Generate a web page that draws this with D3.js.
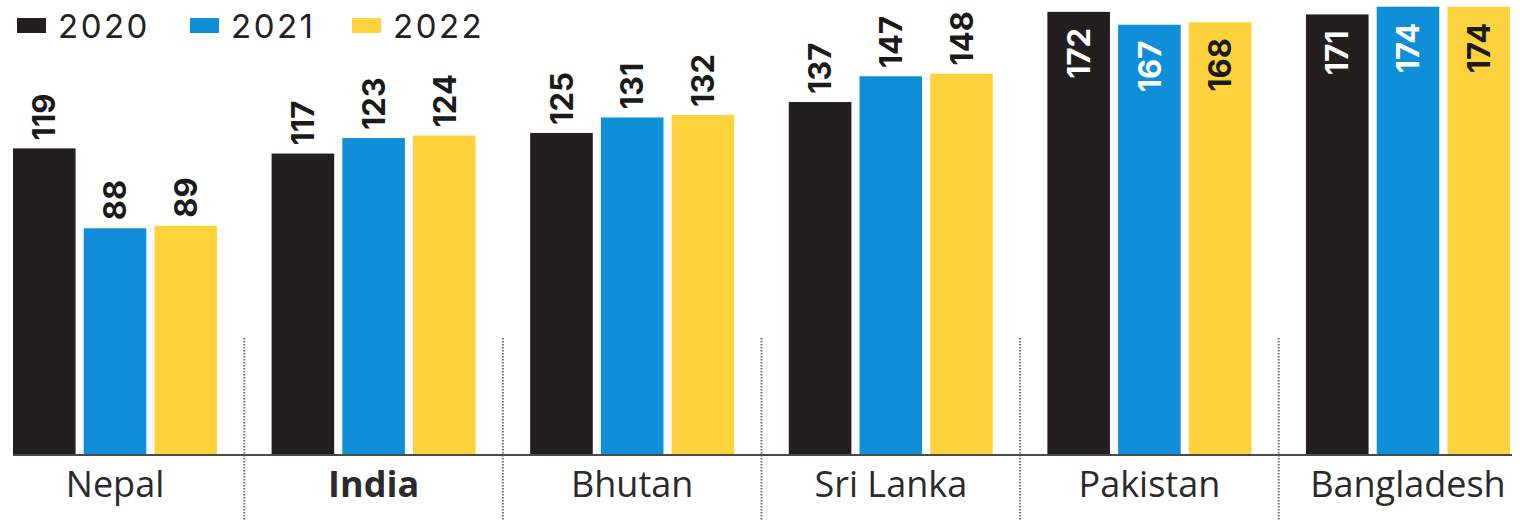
<!DOCTYPE html>
<html>
<head>
<meta charset="utf-8">
<script src="https://cdn.jsdelivr.net/npm/d3@7"></script>
<style>
  html, body { margin: 0; padding: 0; background: #fff; }
  svg { display: block; }
</style>
</head>
<body>
<svg id="chart" width="1520" height="521"></svg>
<script>
const countries = ["Nepal", "India", "Bhutan", "Sri Lanka", "Pakistan", "Bangladesh"];
const years = ["2020", "2021", "2022"];
const values2020 = [119, 117, 125, 137, 172, 171];
const values2021 = [88, 123, 131, 147, 167, 174];
const values2022 = [89, 124, 132, 148, 168, 174];
const highlighted = ["India"];

const seriesValues = { "2020": values2020, "2021": values2021, "2022": values2022 };
const colors = { "2020": "#231f20", "2021": "#0e8fd7", "2022": "#fdd23d" };
const insideText = { "2020": "#ffffff", "2021": "#ffffff", "2022": "#1a1a1a" };

const svg = d3.select("#chart");
const W = 1520, H = 521;
svg.append("rect").attr("width", W).attr("height", H).attr("fill", "#fff");

const x0 = d3.scaleBand().domain(countries).range([13, 1510]).paddingInner(0.211).paddingOuter(0);
const x1 = d3.scaleBand().domain(years).range([0, x0.bandwidth()]).paddingInner(0.115);
const y = d3.scaleLinear().domain([0, 176.6]).range([455, 0]);

const data = [];
countries.forEach((c, i) => years.forEach(yr => data.push({ country: c, year: yr, value: seriesValues[yr][i] })));

// separators
const sepX = countries.slice(1).map(c => x0(c) - x0.step() * x0.paddingInner() / 2);
svg.selectAll("line.sep").data(sepX).join("line")
  .attr("class", "sep")
  .attr("x1", d => d).attr("x2", d => d)
  .attr("y1", 338).attr("y2", H)
  .attr("stroke", "#6e6e6e").attr("stroke-width", 2)
  .attr("stroke-dasharray", "1.5,1.5");

// bars
svg.selectAll("rect.bar").data(data).join("rect")
  .attr("class", "bar")
  .attr("x", d => x0(d.country) + x1(d.year))
  .attr("y", d => y(d.value))
  .attr("width", x1.bandwidth())
  .attr("height", d => y(0) - y(d.value))
  .attr("fill", d => colors[d.year]);

// axis baseline
svg.append("line")
  .attr("x1", 13).attr("x2", 1512)
  .attr("y1", y(0)).attr("y2", y(0))
  .attr("stroke", "#4a4a4a").attr("stroke-width", 2);

// value labels
const inside = d => d.value >= 160;
svg.selectAll("text.val").data(data).join("text")
  .attr("class", "val")
  .attr("transform", d => {
    const cx = x0(d.country) + x1(d.year) + x1.bandwidth() / 2;
    const ty = inside(d) ? y(d.value) + 16 : y(d.value) - 8;
    return `translate(${cx},${ty}) rotate(-90)`;
  })
  .attr("dy", "0.36em")
  .attr("text-anchor", d => inside(d) ? "end" : "start")
  .attr("font-family", "Inter, 'Open Sans', sans-serif")
  .attr("font-weight", 700)
  .attr("font-size", 31)
  .attr("fill", d => inside(d) ? insideText[d.year] : "#1a1a1a")
  .text(d => d.value);

// category labels
svg.selectAll("text.cat").data(countries).join("text")
  .attr("class", "cat")
  .attr("x", d => x0(d) + x0.bandwidth() / 2)
  .attr("y", 497)
  .attr("text-anchor", "middle")
  .attr("font-family", "'Open Sans', sans-serif")
  .attr("font-size", 36)
  .attr("font-weight", d => highlighted.includes(d) ? 700 : 400)
  .attr("fill", "#2a2a2a")
  .text(d => d);

// legend
const legendX = [17, 190, 352];
const lg = svg.selectAll("g.leg").data(years).join("g")
  .attr("class", "leg")
  .attr("transform", (d, i) => `translate(${legendX[i]},0)`);
lg.append("rect").attr("x", 0).attr("y", 18).attr("width", 29).attr("height", 15)
  .attr("fill", d => colors[d]);
lg.append("text").attr("x", 41).attr("y", 38)
  .attr("font-family", "Inter, 'Open Sans', sans-serif")
  .attr("font-size", 33)
  .attr("letter-spacing", 2.5)
  .attr("fill", "#222")
  .text(d => d);
</script>
</body>
</html>
